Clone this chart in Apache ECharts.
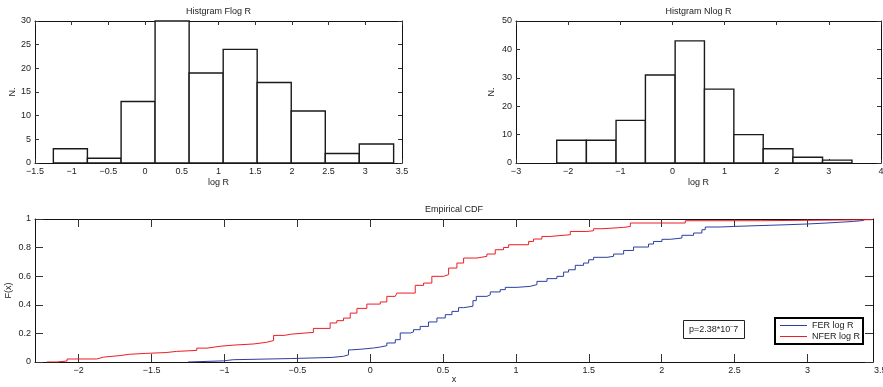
<!DOCTYPE html>
<html>
<head>
<meta charset="utf-8">
<script src="https://cdn.jsdelivr.net/npm/echarts@6/dist/echarts.min.js"></script>
<style>html,body{margin:0;padding:0;background:#fff}#c{width:883px;height:387px}</style>
</head>
<body>
<div id="c"></div>
<script>
// ---- data ----
const flogEdges = [-1.25, -0.786, -0.327, 0.136, 0.6, 1.064, 1.527, 1.991, 2.455, 2.918, 3.386];
const flogCounts = [3, 1, 13, 30, 19, 24, 17, 11, 2, 4];
const nflogEdges = [-2.219, -1.65, -1.081, -0.518, 0.052, 0.614, 1.178, 1.741, 2.311, 2.879, 3.443];
const nflogCounts = [8, 8, 15, 31, 43, 26, 10, 5, 2, 1];

const ferX = [-1.25, -1.24, -1.007, -0.94, -0.549, -0.263, -0.183, -0.149, -0.126, -0.057, 0.023, 0.069, 0.114, 0.172, 0.206, 0.275, 0.297, 0.343, 0.40, 0.458, 0.515, 0.561, 0.606, 0.641, 0.705, 0.728, 0.801, 0.824, 0.892, 0.927, 1.007, 1.098, 1.144, 1.213, 1.281, 1.327, 1.361, 1.407, 1.464, 1.499, 1.533, 1.625, 1.67, 1.739, 1.807, 1.91, 1.944, 2.002, 2.059, 2.139, 2.219, 2.276, 2.299, 2.402, 2.494, 2.86, 2.997, 3.134, 3.317, 3.386];
const ferF = [0, 0.008, 0.016, 0.024, 0.032, 0.040, 0.050, 0.085, 0.090, 0.098, 0.105, 0.114, 0.133, 0.156, 0.203, 0.210, 0.226, 0.249, 0.280, 0.308, 0.331, 0.354, 0.380, 0.390, 0.429, 0.459, 0.470, 0.490, 0.506, 0.522, 0.529, 0.541, 0.564, 0.583, 0.599, 0.629, 0.645, 0.676, 0.692, 0.715, 0.732, 0.739, 0.755, 0.780, 0.804, 0.825, 0.843, 0.858, 0.867, 0.886, 0.902, 0.925, 0.944, 0.948, 0.960, 0.965, 0.972, 0.983, 0.990, 1.0];

const nferX = [-2.219, -2.15, -2.08, -1.876, -1.83, -1.716, -1.65, -1.544, -1.40, -1.33, -1.19, -1.12, -1.03, -0.94, -0.80, -0.71, -0.663, -0.59, -0.54, -0.39, -0.275, -0.229, -0.183, -0.137, -0.091, -0.023, 0.069, 0.114, 0.172, 0.183, 0.309, 0.366, 0.423, 0.503, 0.538, 0.595, 0.641, 0.732, 0.801, 0.858, 0.915, 0.95, 1.087, 1.121, 1.178, 1.235, 1.373, 1.487, 1.533, 1.59, 1.739, 1.785, 2.162, 2.68, 3.443];
const nferF = [0, 0.007, 0.021, 0.034, 0.045, 0.054, 0.060, 0.066, 0.074, 0.081, 0.097, 0.110, 0.118, 0.126, 0.138, 0.150, 0.186, 0.195, 0.207, 0.235, 0.273, 0.289, 0.307, 0.342, 0.375, 0.405, 0.420, 0.459, 0.470, 0.482, 0.536, 0.552, 0.599, 0.611, 0.657, 0.692, 0.727, 0.739, 0.755, 0.785, 0.801, 0.820, 0.843, 0.860, 0.878, 0.890, 0.913, 0.918, 0.932, 0.941, 0.948, 0.972, 0.988, 0.995, 1.0];

const hist1XTicks = [-1.5, -1, -0.5, 0, 0.5, 1, 1.5, 2, 2.5, 3, 3.5];
const hist1YTicks = [0, 5, 10, 15, 20, 25, 30];
const hist2XTicks = [-3, -2, -1, 0, 1, 2, 3, 4];
const hist2YTicks = [0, 10, 20, 30, 40, 50];
const cdfXTicks = [-2, -1.5, -1, -0.5, 0, 0.5, 1, 1.5, 2, 2.5, 3];
const cdfYTicks = [0, 0.2, 0.4, 0.6, 0.8, 1];

const titles = ['Histgram Flog R', 'Histgram Nlog R', 'Empirical CDF'];
const seriesNames = ['FER log R', 'NFER log R'];
const pText = 'p=2.38*10\u207B7';

// ---- chart ----
const FONT = "'Liberation Sans', Arial, Helvetica, sans-serif";
const TXT = '#222';
const fmt = v => String(v).replace('-', '\u2212');

function xAx(grid, min, max, ticks, tickLen, opts) {
  const bottom = {
    type: 'value', gridIndex: grid, position: 'bottom', min: min, max: max,
    axisLine: { show: true, onZero: false, lineStyle: { color: '#111', width: 1 } },
    axisTick: { show: true, inside: true, length: tickLen, customValues: ticks, lineStyle: { color: '#333' } },
    axisLabel: { show: true, customValues: ticks, formatter: fmt, fontSize: 9, color: TXT, fontFamily: FONT, margin: 4 },
    splitLine: { show: false },
    name: opts.xName, nameLocation: 'middle', nameGap: opts.xGap, nameMoveOverlap: false,
    nameTextStyle: { fontSize: 9, color: TXT, fontFamily: FONT }
  };
  const top = {
    type: 'value', gridIndex: grid, position: 'top', min: min, max: max,
    axisLine: { show: true, onZero: false, lineStyle: { color: '#111', width: 1 } },
    axisTick: { show: true, inside: true, length: tickLen, customValues: ticks, lineStyle: { color: '#333' } },
    axisLabel: { show: false },
    splitLine: { show: false },
    name: opts.title, nameLocation: 'middle', nameGap: 5, nameMoveOverlap: false,
    nameTextStyle: { fontSize: 9, color: TXT, fontFamily: FONT }
  };
  return [bottom, top];
}
function yAx(grid, min, max, ticks, tickLen, opts) {
  const left = {
    type: 'value', gridIndex: grid, position: 'left', min: min, max: max,
    axisLine: { show: true, onZero: false, lineStyle: { color: '#111', width: 1 } },
    axisTick: { show: true, inside: true, length: tickLen, customValues: ticks, lineStyle: { color: '#333' } },
    axisLabel: { show: true, customValues: ticks, formatter: fmt, fontSize: 9, color: TXT, fontFamily: FONT, margin: 4 },
    splitLine: { show: false },
    name: opts.yName, nameLocation: 'middle', nameGap: opts.yGap, nameRotate: 90, nameMoveOverlap: false,
    nameTextStyle: { fontSize: 9, color: TXT, fontFamily: FONT }
  };
  const right = {
    type: 'value', gridIndex: grid, position: 'right', min: min, max: max,
    axisLine: { show: true, onZero: false, lineStyle: { color: '#111', width: 1 } },
    axisTick: { show: true, inside: true, length: tickLen, customValues: ticks, lineStyle: { color: '#333' } },
    axisLabel: { show: false },
    splitLine: { show: false }
  };
  return [left, right];
}

function histData(edges, counts) {
  return counts.map((c, i) => [edges[i], edges[i + 1], c]);
}
function renderBin(params, api) {
  const p0 = api.coord([api.value(0), api.value(2)]);
  const p1 = api.coord([api.value(1), 0]);
  return {
    type: 'rect',
    shape: { x: p0[0], y: p0[1], width: p1[0] - p0[0], height: p1[1] - p0[1] },
    style: { fill: '#fff', stroke: '#1a1a1a', lineWidth: 1.4 }
  };
}
function pairs(xs, ys) { return xs.map((x, i) => [x, ys[i]]); }

const chart = echarts.init(document.getElementById('c'), null, { renderer: 'canvas' });
const option = {
  animation: false,
  backgroundColor: '#fff',
  textStyle: { fontFamily: FONT },
  grid: [
    { left: 35, top: 21, width: 367, height: 142, containLabel: false, outerBoundsMode: 'none' },
    { left: 516, top: 21, width: 365, height: 142, containLabel: false, outerBoundsMode: 'none' },
    { left: 35, top: 219, width: 838, height: 143, containLabel: false, outerBoundsMode: 'none' }
  ],
  xAxis: [
    ...xAx(0, -1.5, 3.5, hist1XTicks, 4, { xName: 'log R', xGap: 15, title: titles[0] }),
    ...xAx(1, -3, 4, hist2XTicks, 4, { xName: 'log R', xGap: 15, title: titles[1] }),
    ...xAx(2, -2.3, 3.45, cdfXTicks, 8, { xName: 'x', xGap: 13, title: titles[2] })
  ],
  yAxis: [
    ...yAx(0, 0, 30, hist1YTicks, 4, { yName: 'N.', yGap: 18 }),
    ...yAx(1, 0, 50, hist2YTicks, 4, { yName: 'N.', yGap: 20 }),
    ...yAx(2, 0, 1, cdfYTicks, 8, { yName: 'F(x)', yGap: 22 })
  ],
  legend: {
    data: seriesNames,
    orient: 'vertical', left: 775, top: 318,
    borderColor: '#000', borderWidth: 2, borderRadius: 0,
    padding: [3, 3, 3, 5], itemGap: 2,
    icon: 'rect', itemWidth: 27, itemHeight: 1,
    textStyle: { fontSize: 9, color: TXT, fontFamily: FONT },
    backgroundColor: '#fff'
  },
  title: {
    text: pText, left: 683, top: 320,
    borderColor: '#222', borderWidth: 1,
    padding: [5, 6, 5, 6],
    textStyle: { fontSize: 9, fontWeight: 'normal', color: TXT, fontFamily: FONT }
  },
  series: [
    { type: 'custom', xAxisIndex: 0, yAxisIndex: 0, renderItem: renderBin, encode: { x: [0, 1], y: 2 }, data: histData(flogEdges, flogCounts) },
    { type: 'custom', xAxisIndex: 2, yAxisIndex: 2, renderItem: renderBin, encode: { x: [0, 1], y: 2 }, data: histData(nflogEdges, nflogCounts) },
    { name: seriesNames[0], type: 'line', xAxisIndex: 4, yAxisIndex: 4, step: 'end', symbol: 'none',
      lineStyle: { color: '#2c3f9e', width: 1 }, itemStyle: { color: '#2c3f9e' }, data: pairs(ferX, ferF) },
    { name: seriesNames[1], type: 'line', xAxisIndex: 4, yAxisIndex: 4, step: 'end', symbol: 'none',
      lineStyle: { color: '#ee1c25', width: 1 }, itemStyle: { color: '#ee1c25' }, data: pairs(nferX, nferF) }
  ]
};
chart.setOption(option);

// clipped "3.5" label at the right edge of the CDF axis (positioned through the axis scale)
const px35 = chart.convertToPixel({ xAxisIndex: 4 }, 3.5);
const py0 = chart.convertToPixel({ yAxisIndex: 4 }, 0);
chart.setOption({
  graphic: [{
    type: 'text', x: px35, y: py0 + 4,
    style: { text: fmt(3.5), fontSize: 9, fill: TXT, fontFamily: FONT, align: 'center', verticalAlign: 'top' }
  }]
});
</script>
</body>
</html>
